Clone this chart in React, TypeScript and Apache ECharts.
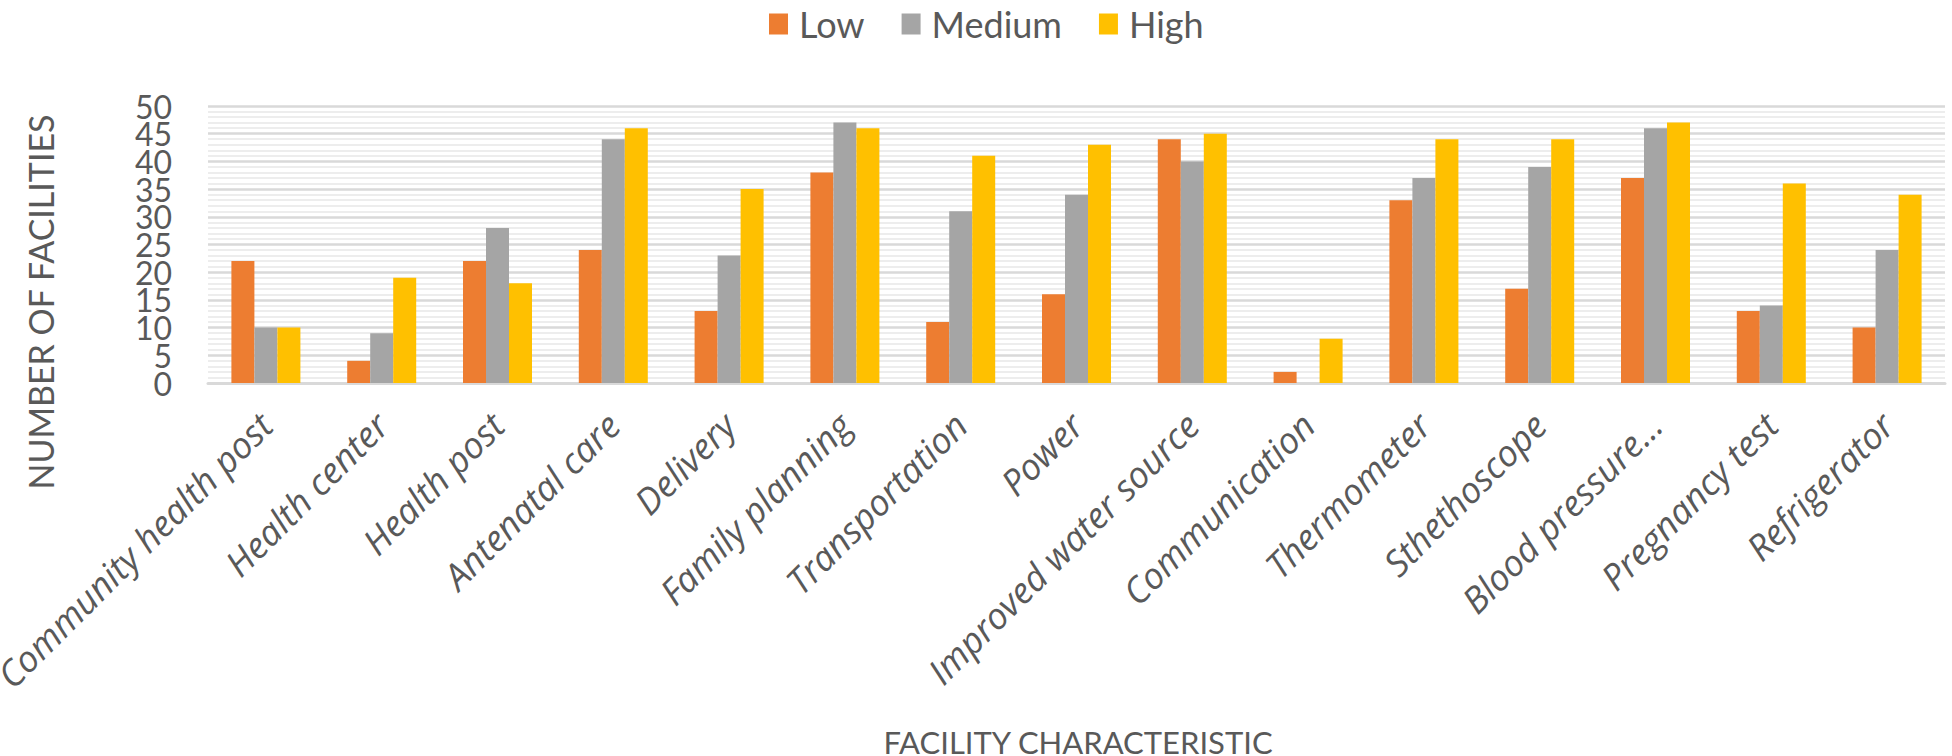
import React, { useEffect, useRef } from "react";
import * as echarts from "echarts";

const categories = [
  "Community health post",
  "Health center",
  "Health post",
  "Antenatal care",
  "Delivery",
  "Family planning",
  "Transportation",
  "Power",
  "Improved water source",
  "Communication",
  "Thermometer",
  "Sthethoscope",
  "Blood pressure...",
  "Pregnancy test",
  "Refrigerator",
];
const seriesNames = ["Low", "Medium", "High"];
const lowValues = [22, 4, 22, 24, 13, 38, 11, 16, 44, 2, 33, 17, 37, 13, 10];
const mediumValues = [10, 9, 28, 44, 23, 47, 31, 34, 40, 0, 37, 39, 46, 14, 24];
const highValues = [10, 19, 18, 46, 35, 46, 41, 43, 45, 8, 44, 44, 47, 36, 34];
const yMin = 0;
const yMax = 50;
const yInterval = 5;
const yAxisTitle = "NUMBER OF FACILITIES";
const xAxisTitle = "FACILITY CHARACTERISTIC";

const colors = ["#ED7D31", "#A5A5A5", "#FFC000"];
const textColor = "#595959";

export default function App() {
  const ref = useRef<HTMLDivElement>(null);
  useEffect(() => {
    if (!ref.current) return;
    const chart = echarts.init(ref.current, undefined, { renderer: "svg" });
    const values = [lowValues, mediumValues, highValues];
    const yLabelBase = {
      showMinLabel: true,
      showMaxLabel: true,
      margin: 36,
      fontFamily: "Lato",
      fontSize: 32,
      color: textColor,
    };
    const yAxisBase = {
      type: "value",
      position: "left",
      min: yMin,
      max: yMax,
      interval: yInterval,
      axisLine: { show: false },
      axisTick: { show: false },
    };
    chart.setOption({
      animation: false,
      color: colors,
      legend: {
        top: 1,
        left: 764,
        itemWidth: 19,
        itemHeight: 21,
        itemGap: 37,
        icon: "rect",
        textStyle: {
          fontFamily: "Lato",
          fontSize: 36,
          color: textColor,
          padding: [0, 0, 0, 6],
        },
        data: seriesNames,
      },
      grid: {
        left: 208,
        right: 7,
        top: 106,
        bottom: 373,
        containLabel: false,
        outerBoundsMode: "none",
      },
      xAxis: {
        type: "category",
        data: categories,
        axisLine: { show: true, lineStyle: { color: "#d9d9d9", width: 3 } },
        axisTick: { show: false },
        axisLabel: {
          interval: 0,
          rotate: 45,
          margin: 36,
          fontFamily: "Open Sans",
          fontStyle: "italic",
          fontSize: 36,
          color: textColor,
        },
      },
      yAxis: [
        {
          ...yAxisBase,
          axisLabel: {
            ...yLabelBase,
            formatter: (v: number) => (v % 10 === 0 ? String(v) : ""),
          },
          splitLine: { show: true, lineStyle: { color: "#d9d9d9", width: 2.5 } },
          minorTick: { show: false, splitNumber: 5 },
          minorSplitLine: { show: true, lineStyle: { color: "#ededed", width: 2 } },
        },
        {
          ...yAxisBase,
          axisLabel: {
            ...yLabelBase,
            formatter: (v: number) => (v % 10 === 5 ? String(v) : ""),
          },
          splitLine: { show: false },
        },
      ],
      graphic: [
        {
          type: "text",
          x: 40,
          y: 302,
          rotation: Math.PI / 2,
          style: {
            text: yAxisTitle,
            fontFamily: "Lato",
            fontSize: 34,
            fill: textColor,
            textAlign: "center",
            textVerticalAlign: "middle",
          },
        },
        {
          type: "text",
          x: 1078,
          y: 742,
          style: {
            text: xAxisTitle,
            fontFamily: "Lato",
            fontSize: 31,
            fill: textColor,
            textAlign: "center",
            textVerticalAlign: "middle",
          },
        },
      ],
      series: seriesNames.map((name, i) => ({
        name,
        type: "bar",
        yAxisIndex: 0,
        data: values[i],
        barWidth: 23,
        barGap: "0%",
        itemStyle: { color: colors[i] },
      })),
    });
    return () => chart.dispose();
  }, []);
  return (
    <div
      ref={ref}
      style={{ position: "fixed", left: 0, top: 0, width: 1952, height: 756, background: "#fff" }}
    />
  );
}
